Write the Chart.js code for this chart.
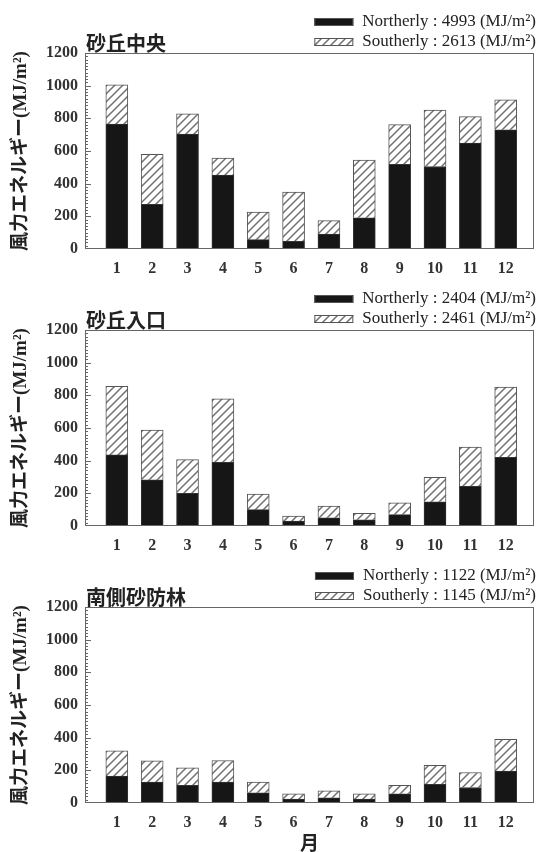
<!DOCTYPE html>
<html>
<head>
<meta charset="utf-8">
<script src="https://cdn.jsdelivr.net/npm/chart.js@4.4.0/dist/chart.umd.min.js"></script>
<style>
  html, body { margin: 0; padding: 0; background: #fff; }
  .panel { position: absolute; left: 0; width: 538px; }
</style>
</head>
<body>
<div class="panel" style="top:0;height:277px"><canvas id="c1"></canvas></div>
<div class="panel" style="top:277px;height:277px"><canvas id="c2"></canvas></div>
<div class="panel" style="top:554px;height:298px"><canvas id="c3"></canvas></div>
<script>
const months = [1, 2, 3, 4, 5, 6, 7, 8, 9, 10, 11, 12];
const siteNames = ['砂丘中央', '砂丘入口', '南側砂防林'];
const northCenter = [765, 273, 704, 453, 57, 47, 92, 191, 519, 505, 648, 730];
const southCenter = [240, 307, 123, 103, 169, 302, 82, 353, 242, 346, 162, 183];
const northEntrance = [435, 283, 200, 390, 100, 30, 50, 38, 70, 148, 243, 420];
const southEntrance = [420, 305, 206, 388, 95, 30, 72, 40, 72, 150, 240, 430];
const northForest = [165, 128, 108, 128, 63, 24, 32, 24, 56, 115, 95, 195];
const southForest = [155, 130, 108, 132, 65, 32, 42, 32, 52, 115, 92, 195];
const northTotals = [4993, 2404, 1122];
const southTotals = [2613, 2461, 1145];

const serif = '"Liberation Serif", "Noto Sans CJK JP"';
const gothic = '"Noto Sans CJK JP"';

// diagonal hatch for the southerly bars
function makeHatch() {
  const c = document.createElement('canvas');
  c.width = 8; c.height = 8;
  const g = c.getContext('2d');
  g.fillStyle = '#fff';
  g.fillRect(0, 0, 8, 8);
  g.strokeStyle = '#707070';
  g.lineWidth = 1.5;
  g.beginPath();
  g.moveTo(0, 8); g.lineTo(8, 0);
  g.moveTo(-2, 2); g.lineTo(2, -2);
  g.moveTo(6, 10); g.lineTo(10, 6);
  g.stroke();
  return g.createPattern(c, 'repeat');
}
const hatch = makeHatch();

// box, inner ticks, panel title and legend
const frame = {
  id: 'frame',
  afterDatasetsDraw(chart, args, opts) {
    const { ctx, chartArea: a, scales: { y } } = chart;
    ctx.save();
    ctx.strokeStyle = '#666';
    ctx.lineWidth = 1;
    ctx.strokeRect(a.left + 0.5, a.top + 0.5, a.right - a.left - 1, a.bottom - a.top - 1);
    ctx.beginPath();
    for (let v = 20; v < 1200; v += 20) {
      const py = Math.round(y.getPixelForValue(v)) + 0.5;
      ctx.moveTo(a.left, py);
      ctx.lineTo(a.left + (v % 200 === 0 ? 6 : 3), py);
    }
    ctx.stroke();

    ctx.fillStyle = '#222';
    ctx.textBaseline = 'middle';
    ctx.textAlign = 'left';
    ctx.font = 'bold 20px ' + gothic;
    ctx.fillText(opts.name, a.left + 1, a.top - 10);

    const rows = [
      { text: 'Northerly : ' + opts.north + ' (MJ/m²)', fill: '#161616', y: a.top - 31 },
      { text: 'Southerly : ' + opts.south + ' (MJ/m²)', fill: hatch, y: a.top - 11 }
    ];
    ctx.font = '17px ' + serif;
    ctx.textAlign = 'right';
    rows.forEach(r => {
      const w = ctx.measureText(r.text).width;
      const right = a.right + 2;
      ctx.fillText(r.text, right, r.y);
      const bx = right - w - 48;
      ctx.fillStyle = r.fill;
      ctx.fillRect(bx, r.y - 4, 39, 8);
      ctx.strokeStyle = '#555';
      ctx.strokeRect(bx + 0.5, r.y - 3.5, 38, 7);
      ctx.fillStyle = '#222';
    });
    ctx.restore();
  }
};

function drawPanel(id, i, north, south, monthTitle) {
  new Chart(document.getElementById(id), {
    type: 'bar',
    data: {
      datasets: [
        {
          label: 'Northerly',
          data: months.map((m, k) => ({ x: m, y: north[k] })),
          backgroundColor: '#161616',
          borderColor: '#333',
          borderWidth: 1,
          barThickness: 22
        },
        {
          label: 'Southerly',
          data: months.map((m, k) => ({ x: m, y: south[k] })),
          backgroundColor: hatch,
          borderColor: '#555',
          borderWidth: 1,
          barThickness: 22
        }
      ]
    },
    options: {
      responsive: true,
      maintainAspectRatio: false,
      animation: false,
      layout: { padding: { top: 53, right: 4, left: 0, bottom: 0 } },
      plugins: {
        legend: { display: false },
        tooltip: { enabled: false },
        frame: { name: siteNames[i], north: northTotals[i], south: southTotals[i] }
      },
      scales: {
        x: {
          type: 'linear',
          stacked: true,
          offset: false,
          min: 0.1,
          max: 12.8,
          afterBuildTicks: s => { s.ticks = months.map(v => ({ value: v })); },
          afterFit: s => { s.height = monthTitle ? 49 : 28; },
          grid: { display: false, drawTicks: false },
          border: { display: false },
          ticks: { padding: 10, color: '#333', autoSkip: false, maxRotation: 0,
                   callback: v => String(v),
                   font: { family: serif, size: 16, weight: 'bold' } },
          title: { display: monthTitle, text: '月', color: '#222', padding: 0,
                   font: { family: gothic, size: 19, weight: 'bold', lineHeight: 1 } }
        },
        y: {
          stacked: true,
          min: 0,
          max: 1200,
          afterFit: s => { s.width = 85; },
          grid: { display: false, drawTicks: false },
          border: { display: false },
          ticks: { stepSize: 200, padding: 7, color: '#333',
                   callback: v => String(v),
                   font: { family: serif, size: 16, weight: 'bold' } },
          title: { display: true, text: '風力エネルギー(MJ/m²)', color: '#222',
                   padding: { top: 10, bottom: 0 },
                   font: { family: serif, size: 19, weight: 'bold' } }
        }
      }
    },
    plugins: [frame]
  });
}

drawPanel('c1', 0, northCenter, southCenter, false);
drawPanel('c2', 1, northEntrance, southEntrance, false);
drawPanel('c3', 2, northForest, southForest, true);
</script>
</body>
</html>
